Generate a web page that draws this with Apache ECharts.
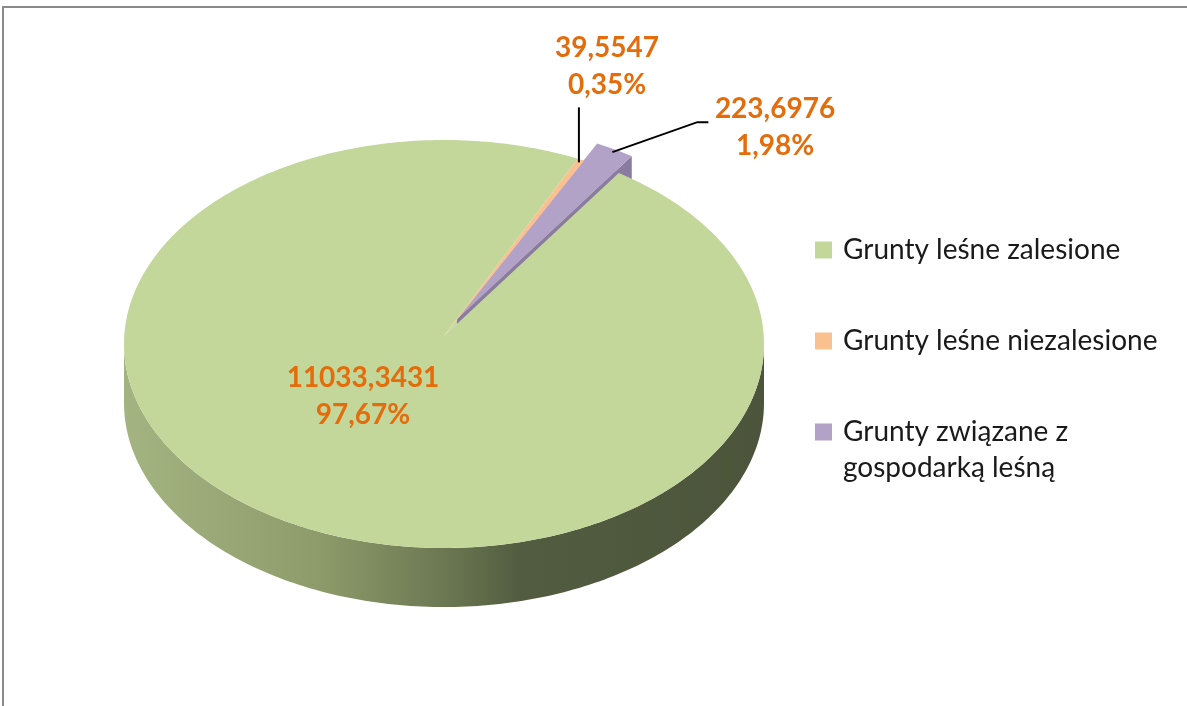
<!DOCTYPE html>
<html>
<head>
<meta charset="utf-8">
<script src="https://cdn.jsdelivr.net/npm/echarts@6/dist/echarts.min.js"></script>
<style>
  html, body { margin: 0; padding: 0; background: #fff; }
  #chart { width: 1187px; height: 706px; }
</style>
</head>
<body>
<div id="chart"></div>
<script>
// dane wykresu
const names = ['Grunty leśne zalesione', 'Grunty leśne niezalesione', 'Grunty związane z gospodarką leśną'];
const values = [11033.3431, 39.5547, 223.6976];
const colors = ['#C4D79B', '#FAC090', '#B3A2C7'];

// geometria "3D" tortu
const CX = 444, CY = 344, RX = 320, RY = 204, DEPTH = 59, APEX_DY = -8;
const START_ANGLE = 33.1; // stopnie, zgodnie z ruchem wskazówek od godz. 12
const EXPLODE = [[0, 0], [0, 0], [13, -17]];
const LABEL_POS = [[363, 396], [607, 66], [775, 127]];
const LEADERS = [null, [[0, -55]], [[85, -30], [96, -30]]];
const SIDE_DARK = ['#56613F', '#D9A070', '#8A7BA0'];
const HOLE_COLOR = '#C4D79B';

const sideGradient = new echarts.graphic.LinearGradient(124, 0, 764, 0, [
    { offset: 0, color: '#A4B481' },
    { offset: 0.3, color: '#8E9C6B' },
    { offset: 0.5, color: '#6C7852' },
    { offset: 0.62, color: '#525C40' },
    { offset: 1, color: '#4C553B' }
], true);

const total = values.reduce((s, v) => s + v, 0);

function rimPt(deg, ox, oy, down, k) {
    const r = deg * Math.PI / 180;
    const f = k == null ? 1 : k;
    return [CX + ox + RX * f * Math.sin(r), CY + oy - RY * f * Math.cos(r) + down];
}

function arc(a0, a1, ox, oy, down) {
    const pts = [];
    const n = Math.max(2, Math.ceil(Math.abs(a1 - a0)));
    for (let k = 0; k <= n; k++) pts.push(rimPt(a0 + (a1 - a0) * k / n, ox, oy, down));
    return pts;
}

function fmt(v, d) {
    return v.toFixed(d).replace('.', ',');
}

function makeRender(i) {
    return function (params, api) {
        const before = values.slice(0, i).reduce((s, v) => s + v, 0);
        const val = api.value(0);
        const a0 = START_ANGLE + 360 * before / total;
        const a1 = a0 + 360 * val / total;
        const mid = (a0 + a1) / 2;
        const ox = EXPLODE[i][0], oy = EXPLODE[i][1];
        const exploded = ox !== 0 || oy !== 0;
        const apex = [CX + ox, CY + APEX_DY + oy];
        const children = [];

        // miejsce po wysuniętym kawałku
        if (exploded) {
            children.push({
                type: 'polygon',
                shape: { points: [[CX, CY + APEX_DY]].concat(arc(a0, a1, 0, 0, 0)) },
                style: { fill: HOLE_COLOR }
            });
        }

        // boczna ściana (widoczna przednia część)
        for (let k = 0; k < 2; k++) {
            const base = 90 + 360 * k;
            const lo = Math.max(a0, base), hi = Math.min(a1, base + 180);
            if (hi > lo) {
                const pts = arc(lo, hi, ox, oy, 0).concat(arc(hi, lo, ox, oy, DEPTH));
                children.push({
                    type: 'polygon',
                    shape: { points: pts },
                    style: { fill: i === 0 ? sideGradient : SIDE_DARK[i] }
                });
            }
        }

        // ściana przekroju dla wysuniętego kawałka
        if (exploded) {
            const r1 = rimPt(a1, ox, oy, 0);
            children.push({
                type: 'polygon',
                shape: { points: [apex, r1, [r1[0], r1[1] + DEPTH], [apex[0], apex[1] + DEPTH]] },
                style: { fill: SIDE_DARK[i] }
            });
        }

        // górna powierzchnia
        children.push({
            type: 'polygon',
            shape: { points: [apex].concat(arc(a0, a1, ox, oy, 0)) },
            style: { fill: colors[i] }
        });

        // linia odniesienia
        if (LEADERS[i]) {
            const s = rimPt(mid, ox, oy, 0, 0.985);
            const pts = [s].concat(LEADERS[i].map(p => [s[0] + p[0], s[1] + p[1]]));
            children.push({
                type: 'polyline',
                shape: { points: pts },
                style: { stroke: '#000', lineWidth: 2, fill: null }
            });
        }

        // etykieta
        children.push({
            type: 'text',
            style: {
                text: fmt(val, 4) + '\n' + fmt(100 * val / total, 2) + '%',
                x: LABEL_POS[i][0],
                y: LABEL_POS[i][1],
                align: 'center',
                verticalAlign: 'middle',
                fill: '#E46C0A',
                fontSize: 28,
                fontWeight: 'bold',
                fontFamily: 'Lato',
                lineHeight: 37
            }
        });

        return { type: 'group', children: children };
    };
}

const chart = echarts.init(document.getElementById('chart'));

// kolejność rysowania: wysunięty fioletowy, potem zielony, potem pomarańczowy
const drawOrder = [2, 0, 1];
const series = drawOrder.map((i, n) => ({
    type: 'custom',
    name: names[i],
    coordinateSystem: 'none',
    z: n + 1,
    itemStyle: { color: colors[i] },
    renderItem: makeRender(i),
    data: [[values[i]]]
}));

const legendText = {
    fontSize: 28,
    lineHeight: 36,
    color: '#1a1a1a',
    fontFamily: 'Lato',
    padding: [0, 0, 0, 6]
};

const option = {
    animation: false,
    graphic: [{
        type: 'rect',
        silent: true,
        shape: { x: 3, y: 7, width: 1300, height: 800 },
        style: { fill: 'none', stroke: '#8a8a8a', lineWidth: 2 }
    }],
    legend: [{
        data: [names[0], names[1]],
        orient: 'vertical',
        left: 815,
        top: 232,
        padding: 0,
        icon: 'rect',
        itemWidth: 17,
        itemHeight: 17,
        itemGap: 55,
        selectedMode: false,
        textStyle: legendText
    }, {
        data: [names[2]],
        orient: 'vertical',
        left: 815,
        top: 378,
        padding: 0,
        icon: 'rect',
        itemWidth: 17,
        itemHeight: 17,
        selectedMode: false,
        // pusta pierwsza linia, żeby kwadrat był na wysokości pierwszego wiersza
        formatter: name => '\n' + name.replace(' z ', ' z\n'),
        textStyle: legendText
    }],
    series: series
};

chart.setOption(option);
window.addEventListener('resize', function () {
    chart.resize();
});
</script>
</body>
</html>
